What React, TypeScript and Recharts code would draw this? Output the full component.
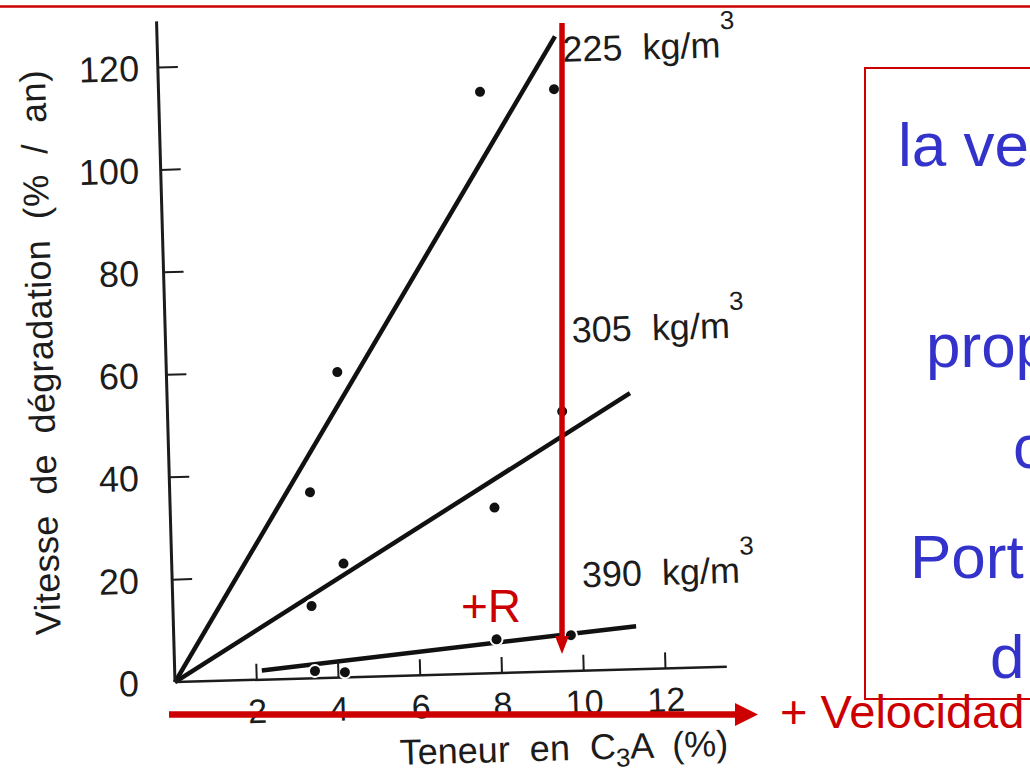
import React from "react"
import { ComposedChart, Line, Scatter, XAxis, YAxis, ReferenceDot, Label } from "recharts"

// axis ticks
const X_TICKS = [2, 4, 6, 8, 10, 12]
const Y_TICKS = [0, 20, 40, 60, 80, 100, 120]

// fitted lines, one per cement dosage
const LINE_225 = [
  { x: 0, y: 0 },
  { x: 9.73, y: 123.9 },
]
const LINE_305 = [
  { x: 0, y: 0 },
  { x: 11.32, y: 53.9 },
]
const LINE_390 = [
  { x: 2.13, y: 1.8 },
  { x: 11.31, y: 8.4 },
]

// measured points
const PTS_225 = [
  { x: 3.43, y: 36.3 },
  { x: 4.18, y: 59.6 },
  { x: 7.86, y: 113.5 },
  { x: 9.67, y: 113.6 },
]
const PTS_305 = [
  { x: 3.39, y: 14.1 },
  { x: 4.2, y: 22.2 },
  { x: 7.93, y: 32.3 },
  { x: 9.65, y: 50.7 },
]
const PTS_390 = [
  { x: 3.43, y: 1.4 },
  { x: 4.16, y: 1.0 },
  { x: 7.89, y: 6.6 },
  { x: 9.71, y: 7.0 },
]

const DOSAGES = ["225", "305", "390"]

const INK = "#1c1c1c"
const RED = "#cc0000"
const BLUE = "#3333cc"
const FONT = "'Liberation Sans', Arial, Helvetica, sans-serif"
const TILT = 0.028 // the scan is turned ~1.6deg; the y labels in it are not

const XTick = (p: any) => (
  <g>
    <line x1={p.x} x2={p.x} y1={p.y} y2={p.y - 16} stroke={INK} strokeWidth={2} />
    <text x={p.x} y={p.y + 31} dy="0.36em" textAnchor="middle" fontSize={34} fill={INK} fontFamily={FONT}>
      {p.payload.value}
    </text>
  </g>
)

const YTick = (p: any) => (
  <g>
    {p.payload.value !== 0 && <line x1={p.x} x2={p.x + 20} y1={p.y} y2={p.y} stroke={INK} strokeWidth={2} />}
    <text x={p.x - 36 + TILT * (682 - p.y)} y={p.y} dy="0.36em" textAnchor="end" fontSize={36} fill={INK} fontFamily={FONT}>
      {p.payload.value}
    </text>
  </g>
)

const dosageLabel = (text: string) => (p: any) => {
  const vb = p.viewBox || {}
  return (
    <text x={vb.x} y={vb.y} fontSize={36} fill={INK} fontFamily={FONT} xmlSpace="preserve" style={{ whiteSpace: "pre" }}>
      {text + "  kg/m"}
      <tspan dy={-28} fontSize={26}>3</tspan>
    </text>
  )
}

const Dot = (p: any) => <circle cx={p.cx} cy={p.cy} r={6} fill="#111" stroke="#fff" strokeWidth={2} />

export default function App() {
  return (
    <div
      style={{
        position: "absolute",
        left: 0,
        top: 0,
        width: 1030,
        height: 774,
        overflow: "hidden",
        background: "#fff",
        fontFamily: FONT,
      }}
    >
      {/* the scanned figure sits slightly askew */}
      <div style={{ position: "absolute", left: 0, top: 0, transform: "rotate(-1.6deg)", transformOrigin: "178px 682px" }}>
        <ComposedChart width={1030} height={800} margin={{ top: 21, right: 303, bottom: 0, left: 0 }}>
          <XAxis
            type="number"
            dataKey="x"
            domain={[0, 13.5]}
            ticks={X_TICKS}
            height={118}
            tickSize={0}
            tickMargin={0}
            tickLine={false}
            tick={XTick}
            axisLine={{ stroke: INK, strokeWidth: 2.5 }}
          >
            <Label
              content={() => (
                <text x={562} y={771} textAnchor="middle" fontSize={36} fill={INK} fontFamily={FONT} xmlSpace="preserve" style={{ whiteSpace: "pre" }}>
                  {"Teneur  en  C"}
                  <tspan dy={8} fontSize={26}>3</tspan>
                  <tspan dy={-8}>{"A  (%)"}</tspan>
                </text>
              )}
            />
          </XAxis>
          <YAxis
            type="number"
            dataKey="y"
            domain={[0, 129]}
            ticks={Y_TICKS}
            width={175}
            tickSize={0}
            tickMargin={0}
            tickLine={false}
            tick={YTick}
            axisLine={{ stroke: INK, strokeWidth: 3 }}
          >
            <Label
              content={() => (
                <text
                  x={62}
                  y={349}
                  transform="rotate(-90 62 349)"
                  textAnchor="middle"
                  fontSize={36}
                  fill={INK}
                  fontFamily={FONT}
                  textLength={565}
                  lengthAdjust="spacing"
                  xmlSpace="preserve"
                  style={{ whiteSpace: "pre" }}
                >
                  {"Vitesse  de  dégradation  (%  /  an)"}
                </text>
              )}
            />
          </YAxis>

          <Line data={LINE_225} dataKey="y" type="linear" stroke="#111" strokeWidth={4.5} dot={false} isAnimationActive={false} />
          <Line data={LINE_305} dataKey="y" type="linear" stroke="#111" strokeWidth={4.5} dot={false} isAnimationActive={false} />
          <Line data={LINE_390} dataKey="y" type="linear" stroke="#111" strokeWidth={4.5} dot={false} isAnimationActive={false} />

          <Scatter data={PTS_225} shape={Dot} isAnimationActive={false} />
          <Scatter data={PTS_305} shape={Dot} isAnimationActive={false} />
          <Scatter data={PTS_390} shape={Dot} isAnimationActive={false} />

          <ReferenceDot x={9.9} y={118.9} r={0} fill="none" stroke="none" ifOverflow="visible" label={{ content: dosageLabel(DOSAGES[0]) }} />
          <ReferenceDot x={9.94} y={64.1} r={0} fill="none" stroke="none" ifOverflow="visible" label={{ content: dosageLabel(DOSAGES[1]) }} />
          <ReferenceDot x={10.02} y={16.3} r={0} fill="none" stroke="none" ifOverflow="visible" label={{ content: dosageLabel(DOSAGES[2]) }} />
        </ComposedChart>
      </div>

      {/* slide annotations */}
      <svg width={1030} height={774} style={{ position: "absolute", left: 0, top: 0 }} fontFamily={FONT}>
        <line x1={0} x2={1030} y1={6.5} y2={6.5} stroke={RED} strokeWidth={2.5} />
        <rect x={865} y={68} width={220} height={631} fill="none" stroke={RED} strokeWidth={2} />
        <g fill={BLUE} fontSize={62}>
          <text x={898} y={166}>la ve</text>
          <text x={926} y={367}>prop</text>
          <text x={1013} y={468}>c</text>
          <text x={910} y={578}>Port</text>
          <text x={990} y={678}>d</text>
        </g>
        <line x1={562} y1={23} x2={562} y2={640} stroke={RED} strokeWidth={5.5} />
        <polygon points="555,636 569,636 562,654" fill={RED} />
        <line x1={169} y1={714.5} x2={738} y2={714.5} stroke={RED} strokeWidth={6.5} />
        <polygon points="735,703 735,726 758,714.5" fill={RED} />
        <text x={461} y={622} fontSize={46} fill={RED}>+R</text>
        <text x={780} y={728} fontSize={47} fill={RED}>+ Velocidad</text>
      </svg>
    </div>
  )
}
